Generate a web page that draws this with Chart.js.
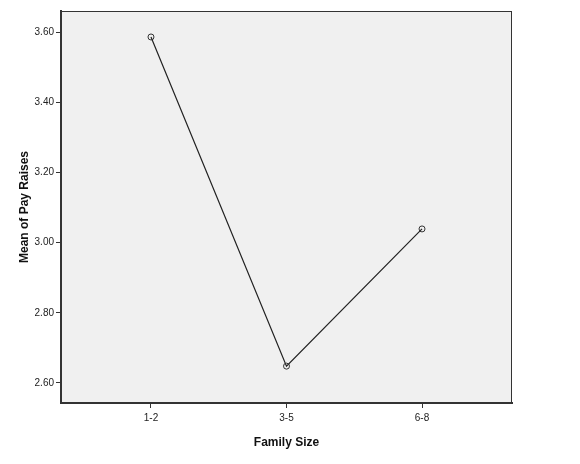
<!DOCTYPE html>
<html><head><meta charset="utf-8">
<script src="https://cdn.jsdelivr.net/npm/chart.js@4"></script>
<style>body{margin:0;background:#fff}#wrap{width:580px;height:464px}</style>
</head><body><div id="wrap"><canvas id="c"></canvas></div>
<script>
const categories = ['1-2', '3-5', '6-8'];
const meanPayRaises = [3.586, 2.648, 3.039];
const yTicks = [2.6, 2.8, 3.0, 3.2, 3.4, 3.6];

const plotBox = {
  id: 'plotBox',
  beforeDraw(chart) {
    const { ctx, chartArea: a } = chart;
    ctx.save();
    ctx.fillStyle = '#f0f0f0';
    ctx.fillRect(a.left, a.top, a.right - a.left, a.bottom - a.top);
    ctx.restore();
  },
  afterDraw(chart) {
    const { ctx, chartArea: a } = chart;
    ctx.save();
    ctx.strokeStyle = '#333';
    ctx.lineWidth = 1;
    ctx.strokeRect(a.left + 0.5, a.top + 0.5, a.right - a.left - 1, a.bottom - a.top - 1);
    ctx.restore();
  }
};

new Chart(document.getElementById('c'), {
  type: 'line',
  data: {
    datasets: [{
      data: meanPayRaises.map((v, i) => ({ x: i, y: v })),
      borderColor: '#222',
      borderWidth: 1.2,
      pointRadius: 3,
      pointBackgroundColor: 'transparent',
      pointBorderColor: '#333',
      pointBorderWidth: 1,
      tension: 0
    }]
  },
  options: {
    responsive: true,
    maintainAspectRatio: false,
    animation: false,
    layout: { padding: { top: 11, right: 68 } },
    plugins: { legend: { display: false }, tooltip: { enabled: false } },
    scales: {
      x: {
        type: 'linear', min: -0.664, max: 2.664,
        afterBuildTicks: s => { s.ticks = categories.map((_, i) => ({ value: i })); },
        afterFit: s => { s.height = 61; },
        ticks: { callback: v => categories[v], color: '#222', font: { family: 'Arial, Liberation Sans', size: 10 }, maxRotation: 0, padding: 4 },
        grid: { drawOnChartArea: false, tickLength: 5, color: '#333' },
        border: { color: '#333', width: 2 },
        title: { display: true, text: 'Family Size', color: '#111', font: { family: 'Arial, Liberation Sans', size: 12, weight: 'bold' }, padding: { top: 0, bottom: 14 } }
      },
      y: {
        min: 2.543, max: 3.66,
        afterBuildTicks: s => { s.ticks = yTicks.map(v => ({ value: v })); },
        afterFit: s => { s.width = 61; },
        ticks: { callback: v => v.toFixed(2), color: '#222', font: { family: 'Arial, Liberation Sans', size: 10 }, padding: 2 },
        grid: { drawOnChartArea: false, tickLength: 5, color: '#333' },
        border: { color: '#333', width: 2 },
        title: { display: true, text: 'Mean of Pay Raises', color: '#111', font: { family: 'Arial, Liberation Sans', size: 12, weight: 'bold' }, padding: { top: 17, bottom: 0 } }
      }
    }
  },
  plugins: [plotBox]
});
</script></body></html>
